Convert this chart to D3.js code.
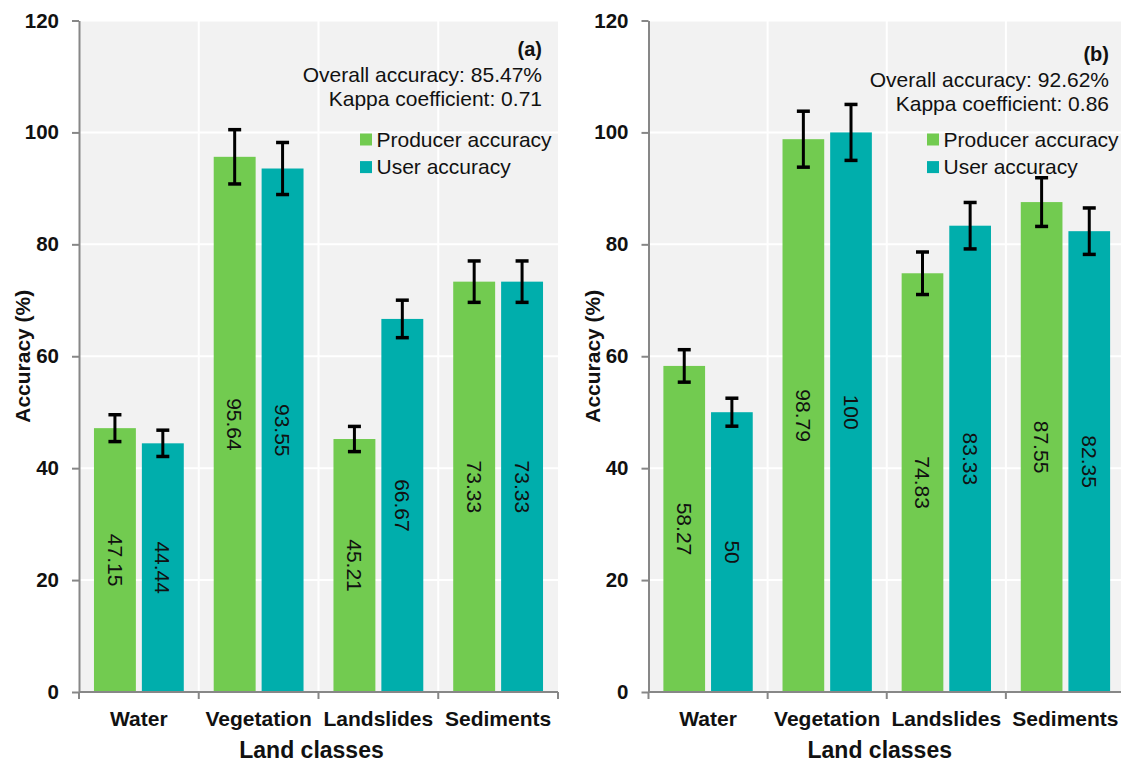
<!DOCTYPE html>
<html>
<head>
<meta charset="utf-8">
<script src="https://cdn.jsdelivr.net/npm/d3@7"></script>
<style>
  html, body { margin: 0; padding: 0; background: #fff; }
  svg { display: block; font-family: "Liberation Sans", Arial, sans-serif; }
</style>
</head>
<body>
<svg id="chart" width="1121" height="762"></svg>
<script>
// Land classes on the x axis
const categories = ["Water", "Vegetation", "Landslides", "Sediments"];
const seriesNames = ["Producer accuracy", "User accuracy"];
const yTicks = [0, 20, 40, 60, 80, 100, 120];

// Panel (a)
const producerA = [47.15, 95.64, 45.21, 73.33];
const userA = [44.44, 93.55, 66.67, 73.33];
const producerErrA = [2.4, 4.85, 2.25, 3.7];
const userErrA = [2.35, 4.65, 3.35, 3.7];

// Panel (b)
const producerB = [58.27, 98.79, 74.83, 87.55];
const userB = [50, 100, 83.33, 82.35];
const producerErrB = [2.9, 5.0, 3.8, 4.35];
const userErrB = [2.5, 5.0, 4.15, 4.15];

const colors = ["#72cb50", "#00aeac"];

const svg = d3.select("#chart");

function drawPanel(opts) {
  const { left, right, top, bottom, tag, overall, kappa, textShift, producer, user, producerErr, userErr } = opts;

  const y = d3.scaleLinear().domain([0, 120]).range([bottom, top]);
  const x0 = d3.scaleBand().domain(categories).range([left, right]).paddingInner(0).paddingOuter(0);
  const x1 = d3.scaleBand().domain(seriesNames).range([0, x0.bandwidth()])
    .paddingInner(0.125).paddingOuter(0.3125);

  const g = svg.append("g");

  // plot background
  g.append("rect")
    .attr("x", left).attr("y", top)
    .attr("width", right - left).attr("height", bottom - top)
    .attr("fill", "#f2f2f2");

  // horizontal grid
  g.append("g").selectAll("line").data(yTicks.slice(1)).join("line")
    .attr("x1", left).attr("x2", right)
    .attr("y1", d => y(d)).attr("y2", d => y(d))
    .attr("stroke", "#ffffff").attr("stroke-width", 2);

  // vertical grid at band boundaries
  const bounds = categories.map(c => x0(c)).concat([right]);
  g.append("g").selectAll("line").data(bounds.slice(1, -1)).join("line")
    .attr("x1", d => d).attr("x2", d => d)
    .attr("y1", top).attr("y2", bottom)
    .attr("stroke", "#ffffff").attr("stroke-width", 2);

  // bars
  const rows = categories.map((c, i) => ({
    cat: c,
    vals: [
      { s: seriesNames[0], v: producer[i], e: producerErr[i] },
      { s: seriesNames[1], v: user[i], e: userErr[i] }
    ]
  }));

  const groups = g.append("g").selectAll("g").data(rows).join("g")
    .attr("transform", d => `translate(${x0(d.cat)},0)`);

  groups.selectAll("rect").data(d => d.vals).join("rect")
    .attr("x", d => x1(d.s))
    .attr("y", d => y(d.v))
    .attr("width", x1.bandwidth())
    .attr("height", d => y(0) - y(d.v))
    .attr("fill", (d, i) => colors[i]);

  // error bars
  const capHalf = 6.5;
  const eb = groups.selectAll("g.err").data(d => d.vals).join("g").attr("class", "err");
  eb.append("line")
    .attr("x1", d => x1(d.s) + x1.bandwidth() / 2)
    .attr("x2", d => x1(d.s) + x1.bandwidth() / 2)
    .attr("y1", d => y(d.v + d.e)).attr("y2", d => y(d.v - d.e))
    .attr("stroke", "#000").attr("stroke-width", 3);
  [1, -1].forEach(sign => {
    eb.append("line")
      .attr("x1", d => x1(d.s) + x1.bandwidth() / 2 - capHalf)
      .attr("x2", d => x1(d.s) + x1.bandwidth() / 2 + capHalf)
      .attr("y1", d => y(d.v + sign * d.e)).attr("y2", d => y(d.v + sign * d.e))
      .attr("stroke", "#000").attr("stroke-width", 3.5);
  });

  // value labels, rotated, centred in each bar
  groups.selectAll("text.val").data(d => d.vals).join("text")
    .attr("class", "val")
    .attr("transform", d => `translate(${x1(d.s) + x1.bandwidth() / 2},${(y(d.v) + y(0)) / 2}) rotate(90)`)
    .attr("text-anchor", "middle")
    .attr("dy", "0.35em")
    .attr("font-size", 21)
    .attr("fill", "#111")
    .text(d => d.v);

  // y axis
  const yAxis = g.append("g")
    .attr("transform", `translate(${left},0)`)
    .call(d3.axisLeft(y).tickValues(yTicks).tickSize(7).tickSizeOuter(0).tickPadding(13));
  yAxis.select(".domain").attr("stroke", "#878787").attr("stroke-width", 2);
  yAxis.selectAll(".tick line").attr("stroke", "#878787").attr("stroke-width", 2);
  yAxis.selectAll(".tick text")
    .attr("font-size", 20.5).attr("font-weight", "bold").attr("fill", "#111")
    .attr("font-family", "Liberation Sans, Arial, sans-serif");

  // x axis line with ticks at band boundaries
  const xAxis = g.append("g").attr("transform", `translate(0,${bottom})`);
  xAxis.append("line")
    .attr("x1", left).attr("x2", right)
    .attr("stroke", "#878787").attr("stroke-width", 2);
  xAxis.selectAll("line.tk").data(bounds).join("line")
    .attr("class", "tk")
    .attr("x1", d => d).attr("x2", d => d)
    .attr("y1", 0).attr("y2", 7)
    .attr("stroke", "#878787").attr("stroke-width", 2);
  xAxis.selectAll("text").data(categories).join("text")
    .attr("x", d => x0(d) + x0.bandwidth() / 2)
    .attr("y", 34)
    .attr("text-anchor", "middle")
    .attr("font-size", 21).attr("font-weight", "bold").attr("fill", "#111")
    .text(d => d);

  // axis titles
  g.append("text")
    .attr("x", (left + right) / 2 - 7)
    .attr("y", bottom + 66)
    .attr("text-anchor", "middle")
    .attr("font-size", 23).attr("font-weight", "bold").attr("fill", "#111")
    .text("Land classes");
  g.append("text")
    .attr("transform", `translate(${left - 49},${(top + bottom) / 2}) rotate(-90)`)
    .attr("text-anchor", "middle")
    .attr("font-size", 21).attr("font-weight", "bold").attr("fill", "#111")
    .text("Accuracy (%)");

  // panel tag and summary statistics
  const tx = right - 16;
  g.append("text").attr("x", tx).attr("y", 56 + textShift)
    .attr("text-anchor", "end").attr("font-size", 20).attr("font-weight", "bold").attr("fill", "#111")
    .text(tag);
  g.append("text").attr("x", tx).attr("y", 81.5 + textShift)
    .attr("text-anchor", "end").attr("font-size", 21).attr("fill", "#111")
    .text(`Overall accuracy: ${overall}%`);
  g.append("text").attr("x", tx).attr("y", 105.5 + textShift)
    .attr("text-anchor", "end").attr("font-size", 21).attr("fill", "#111")
    .text(`Kappa coefficient: ${kappa}`);

  // legend
  const lg = g.append("g").attr("transform", `translate(${right - 198},0)`);
  const items = lg.selectAll("g").data(seriesNames).join("g")
    .attr("transform", (d, i) => `translate(0,${146.5 + i * 27.6})`);
  items.append("rect")
    .attr("x", 0).attr("y", -13).attr("width", 12).attr("height", 12)
    .attr("fill", (d, i) => colors[i]);
  items.append("text")
    .attr("x", 16.5).attr("y", 0)
    .attr("font-size", 21).attr("fill", "#111")
    .text(d => d);
}

drawPanel({
  left: 79, right: 558, top: 20.5, bottom: 692,
  tag: "(a)", overall: "85.47", kappa: "0.71", textShift: 0,
  producer: producerA, user: userA, producerErr: producerErrA, userErr: userErrA
});

drawPanel({
  left: 648.5, right: 1125, top: 20.5, bottom: 692,
  tag: "(b)", overall: "92.62", kappa: "0.86", textShift: 5,
  producer: producerB, user: userB, producerErr: producerErrB, userErr: userErrB
});
</script>
</body>
</html>
